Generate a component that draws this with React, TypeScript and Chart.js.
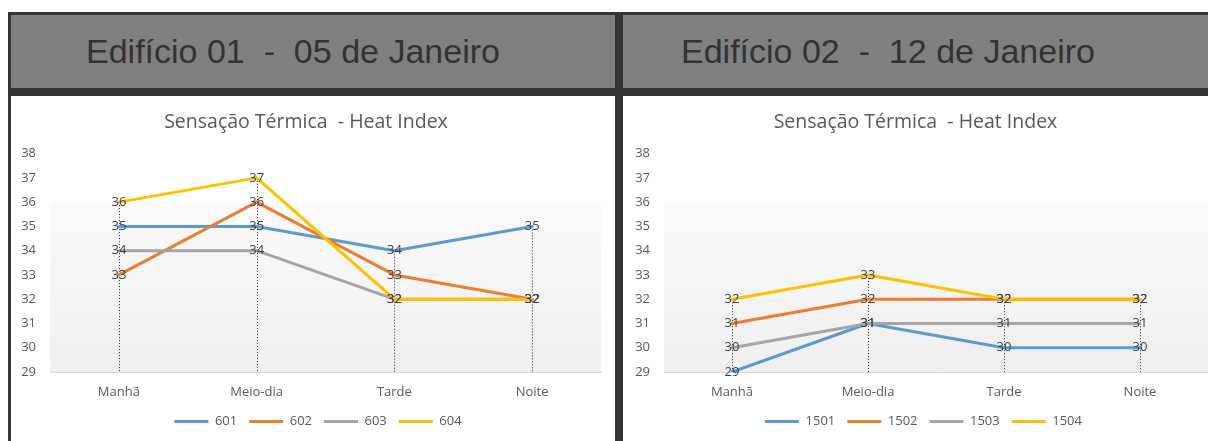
import React, { useEffect, useRef } from 'react';
import { Chart, registerables } from 'chart.js';

Chart.register(...registerables);

// ---------- data ----------
const CATEGORIES = ['Manhã', 'Meio-dia', 'Tarde', 'Noite'];
const Y_MIN = 29;
const Y_MAX = 38;
const CHART_TITLE = 'Sensação Térmica  - Heat Index';

const B1_HEADER = 'Edifício 01  -  05 de Janeiro';
const B1_NAMES = ['601', '602', '603', '604'];
const B1_601 = [35, 35, 34, 35];
const B1_602 = [33, 36, 33, 32];
const B1_603 = [34, 34, 32, 32];
const B1_604 = [36, 37, 32, 32];

const B2_HEADER = 'Edifício 02  -  12 de Janeiro';
const B2_NAMES = ['1501', '1502', '1503', '1504'];
const B2_1501 = [29, 31, 30, 30];
const B2_1502 = [31, 32, 32, 32];
const B2_1503 = [30, 31, 31, 31];
const B2_1504 = [32, 33, 32, 32];

const COLORS = ['#5B9BD5', '#ED7D31', '#A5A5A5', '#FFC000'];
const GRADIENT_TOP_VALUE = 36;

const FONT = 'Open Sans';
const TEXT_COLOR = '#595959';
const FRAME = '#353535';
const HEADER_BG = '#808080';

// ---------- plugins ----------
const plotBgPlugin = {
  id: 'plotBg',
  beforeDraw(chart: any) {
    const { ctx, chartArea } = chart;
    const y = chart.scales.y;
    const top = y.getPixelForValue(GRADIENT_TOP_VALUE);
    const g = ctx.createLinearGradient(0, top, 0, chartArea.bottom);
    g.addColorStop(0, '#fbfbfb');
    g.addColorStop(1, '#efefef');
    ctx.save();
    ctx.fillStyle = g;
    ctx.fillRect(chartArea.left, top, chartArea.right - chartArea.left, chartArea.bottom - top);
    ctx.restore();
  },
};

const dropLinesPlugin = {
  id: 'dropLines',
  beforeDatasetsDraw(chart: any) {
    const { ctx, chartArea } = chart;
    const n = chart.data.labels.length;
    ctx.save();
    ctx.strokeStyle = '#262626';
    ctx.lineWidth = 1;
    ctx.setLineDash([1, 2]);
    for (let i = 0; i < n; i++) {
      let minY = Infinity;
      let x = 0;
      chart.data.datasets.forEach((_ds: any, d: number) => {
        const el = chart.getDatasetMeta(d).data[i];
        if (el && el.y < minY) {
          minY = el.y;
          x = el.x;
        }
      });
      const px = Math.round(x) + 0.5;
      ctx.beginPath();
      ctx.moveTo(px, minY);
      ctx.lineTo(px, chartArea.bottom);
      ctx.stroke();
    }
    ctx.restore();
  },
};

const dataLabelPlugin = {
  id: 'dataLabels',
  afterDatasetsDraw(chart: any) {
    const { ctx } = chart;
    ctx.save();
    ctx.font = `13px "${FONT}"`;
    ctx.fillStyle = '#404040';
    ctx.textAlign = 'center';
    ctx.textBaseline = 'middle';
    chart.data.datasets.forEach((ds: any, d: number) => {
      const meta = chart.getDatasetMeta(d);
      meta.data.forEach((el: any, i: number) => {
        ctx.fillText(String(ds.data[i]), el.x, el.y);
      });
    });
    ctx.restore();
  },
};

function buildConfig(names: string[], series: number[][], yWidth: number, padRight: number, legendShift: number) {
  const legendShiftPlugin = {
    id: 'legendShift',
    afterLayout(chart: any) {
      if (chart.legend) {
        chart.legend.left += legendShift;
        chart.legend.right += legendShift;
      }
    },
  };
  return {
    type: 'line' as const,
    data: {
      labels: CATEGORIES,
      datasets: names.map((n, i) => ({
        label: n,
        data: series[i],
        borderColor: COLORS[i],
        backgroundColor: COLORS[i],
        borderWidth: 3,
        pointRadius: 0,
        pointHoverRadius: 0,
        tension: 0,
        borderCapStyle: 'round' as const,
        borderJoinStyle: 'round' as const,
        order: names.length - i,
      })),
    },
    options: {
      responsive: false,
      animation: false as const,
      events: [],
      layout: { padding: { left: 0, right: padRight, top: 0, bottom: 3 } },
      scales: {
        x: {
          type: 'category' as const,
          offset: true,
          grid: { display: false, drawTicks: false },
          border: { display: true, color: '#d9d9d9', width: 1 },
          ticks: { color: TEXT_COLOR, font: { family: FONT, size: 13 }, padding: 12, maxRotation: 0 },
          afterFit: (s: any) => {
            s.height = 31;
          },
        },
        y: {
          min: Y_MIN,
          max: Y_MAX,
          ticks: { stepSize: 1, color: TEXT_COLOR, font: { family: FONT, size: 13 }, padding: 14 },
          grid: { display: false, drawTicks: false },
          border: { display: false },
          afterFit: (s: any) => {
            s.width = yWidth;
          },
        },
      },
      plugins: {
        title: {
          display: true,
          text: CHART_TITLE,
          color: TEXT_COLOR,
          font: { family: FONT, size: 19.5, weight: 'normal' as const },
          padding: { top: 15, bottom: 19.2 },
        },
        legend: {
          position: 'bottom' as const,
          labels: {
            usePointStyle: true,
            pointStyle: 'line' as const,
            pointStyleWidth: 34,
            color: TEXT_COLOR,
            font: { family: FONT, size: 13 },
            padding: 12,
            sort: (a: any, b: any) => a.datasetIndex - b.datasetIndex,
          },
        },
        tooltip: { enabled: false },
      },
    },
    plugins: [plotBgPlugin, dropLinesPlugin, dataLabelPlugin, legendShiftPlugin],
  };
}

function LineChart(props: {
  names: string[];
  series: number[][];
  width: number;
  height: number;
  yWidth: number;
  padRight: number;
  legendShift: number;
}) {
  const ref = useRef<HTMLCanvasElement | null>(null);
  useEffect(() => {
    if (!ref.current) return;
    const chart = new Chart(
      ref.current,
      buildConfig(props.names, props.series, props.yWidth, props.padRight, props.legendShift) as any
    );
    return () => chart.destroy();
  }, []);
  return (
    <canvas
      ref={ref}
      width={props.width}
      height={props.height}
      style={{ display: 'block', width: props.width, height: props.height }}
    />
  );
}

const abs = (left: number, top: number, width: number, height: number, bg: string): React.CSSProperties => ({
  position: 'absolute',
  left,
  top,
  width,
  height,
  background: bg,
});

export default function App() {
  const headerText: React.CSSProperties = {
    position: 'absolute',
    top: 34,
    fontFamily: '"Liberation Sans", Arial, sans-serif',
    fontSize: 34,
    lineHeight: '34px',
    color: '#333333',
    whiteSpace: 'pre',
  };
  return (
    <div style={{ position: 'absolute', left: 0, top: 0, width: 1208, height: 441, background: '#ffffff', overflow: 'hidden' }}>
      {/* header band */}
      <div style={abs(8, 12, 1200, 77, FRAME)} />
      <div style={abs(11, 15, 1197, 73, HEADER_BG)} />
      <div style={abs(8, 88, 1200, 8, FRAME)} />
      {/* left border */}
      <div style={abs(8, 12, 3, 429, FRAME)} />
      {/* divider */}
      <div style={abs(615, 12, 8, 429, FRAME)} />
      <div style={{ ...headerText, left: 86 }}>{B1_HEADER}</div>
      <div style={{ ...headerText, left: 681 }}>{B2_HEADER}</div>
      {/* charts */}
      <div style={{ position: 'absolute', left: 11, top: 96 }}>
        <LineChart
          names={B1_NAMES}
          series={[B1_601, B1_602, B1_603, B1_604]}
          width={604}
          height={345}
          yWidth={39}
          padRight={14}
          legendShift={12}
        />
      </div>
      <div style={{ position: 'absolute', left: 623, top: 96 }}>
        <LineChart
          names={B2_NAMES}
          series={[B2_1501, B2_1502, B2_1503, B2_1504]}
          width={585}
          height={345}
          yWidth={41}
          padRight={0}
          legendShift={8}
        />
      </div>
    </div>
  );
}
